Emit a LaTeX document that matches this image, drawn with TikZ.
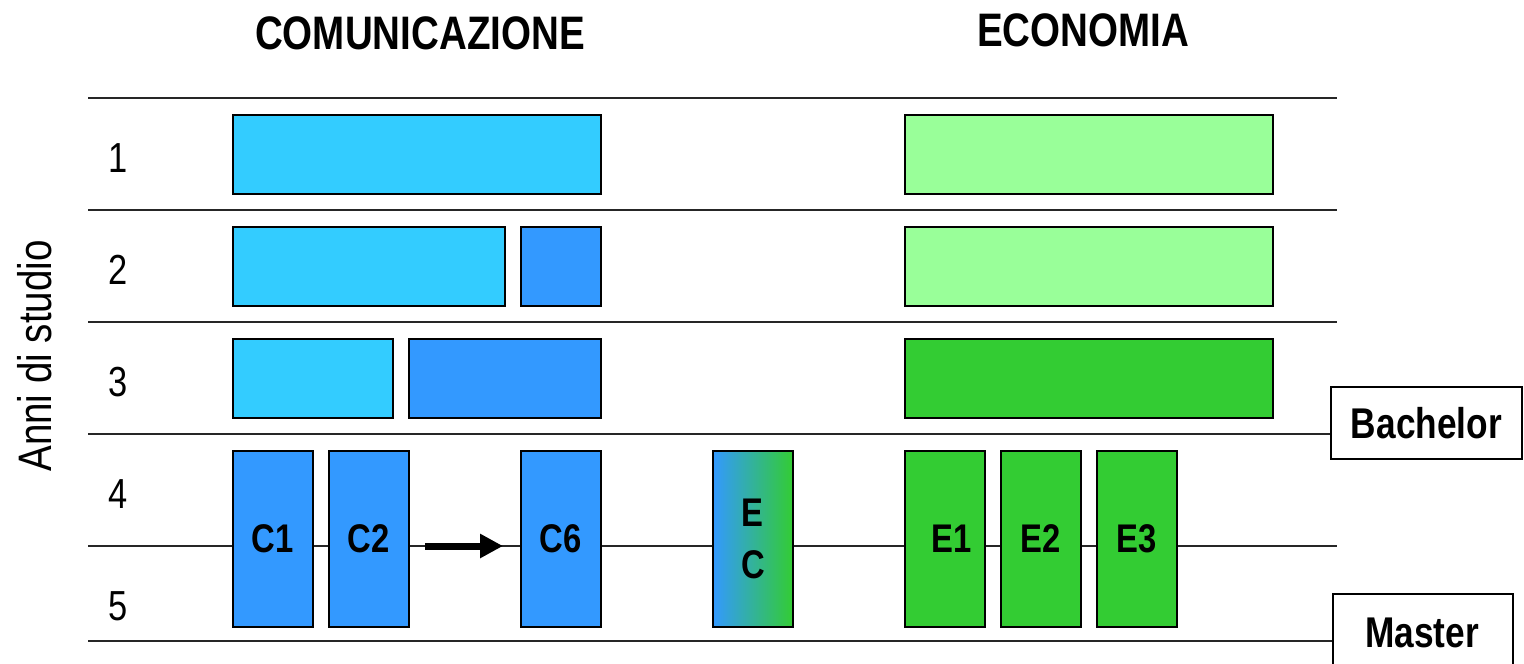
\documentclass[tikz,border=0pt]{standalone}
\usepackage{fontspec}
\setmainfont{Liberation Sans}[FakeStretch=0.82]
\usetikzlibrary{arrows.meta}
\definecolor{ccyan}{HTML}{33CCFF}
\definecolor{cblue}{HTML}{3399FF}
\definecolor{elight}{HTML}{99FF99}
\definecolor{egreen}{HTML}{33CC33}
\tikzset{
  bx/.style={draw=black, line width=1.8pt, inner sep=0pt, anchor=north west},
  rowline/.style={line width=1.8pt, draw=black!85},
  lbl/.style={font=\bfseries\fontsize{40}{52}\selectfont},
  num/.style={font=\fontsize{42}{42}\selectfont},
  ttl/.style={font=\bfseries\fontsize{47}{47}\selectfont},
  tagbox/.style={draw=black, line width=1.8pt, inner sep=0pt, font=\bfseries\fontsize{43}{43}\selectfont}
}
\begin{document}
\begin{tikzpicture}[x=1pt,y=-1pt]
\clip (0,0) rectangle (1524,664);
\fill[white] (0,0) rectangle (1524,664);
% titles
\node[ttl] (tc) at (420,33) {COMUNICAZIONE};
\node[ttl] (te) at (1083,30) {ECONOMIA};
% tags
\node[tagbox, minimum width=191pt, minimum height=72pt, anchor=north west] (bach) at (1330,386) {Bachelor};
\node[tagbox, minimum width=180pt, minimum height=100pt, anchor=north west] (mast) at (1332,593) {};
\node[font=\bfseries\fontsize{43}{43}\selectfont] (mastt) at (1422,633) {Master};
% row lines
\coordinate (l0a) at (88,98);  \coordinate (l0b) at (1337,98);
\coordinate (l1a) at (88,210); \coordinate (l1b) at (1337,210);
\coordinate (l2a) at (88,322); \coordinate (l2b) at (1337,322);
\coordinate (l3a) at (88,434);
\coordinate (l4a) at (88,546); \coordinate (l4b) at (1337,546);
\coordinate (l5a) at (88,641);
\draw[rowline] (l0a) -- (l0b);
\draw[rowline] (l1a) -- (l1b);
\draw[rowline] (l2a) -- (l2b);
\draw[rowline] (l3a) -- (l3a -| bach.west);
\draw[rowline] (l4a) -- (l4b);
\draw[rowline] (l5a) -- (l5a -| mast.west);
% year numbers
\node[num] (n1) at (118,158) {1};
\node[num] (n2) at (118,270) {2};
\node[num] (n3) at (118,382) {3};
\node[num] (n4) at (118,494) {4};
\node[num] (n5) at (118,606) {5};
\node[font=\fontsize{47}{47}\selectfont, rotate=90] (anni) at (35,356) {Anni di studio};
% row 1
\node[bx, fill=ccyan, minimum width=368pt, minimum height=79pt] (c11) at (232,114) {};
\node[bx, fill=elight, minimum width=368pt, minimum height=79pt] (e11) at (904,114) {};
% row 2
\node[bx, fill=ccyan, minimum width=272pt, minimum height=79pt] (c21) at (232,226) {};
\node[bx, fill=cblue, minimum width=80pt, minimum height=79pt] (c22) at (520,226) {};
\node[bx, fill=elight, minimum width=368pt, minimum height=79pt] (e21) at (904,226) {};
% row 3
\node[bx, fill=ccyan, minimum width=160pt, minimum height=79pt] (c31) at (232,338) {};
\node[bx, fill=cblue, minimum width=192pt, minimum height=79pt] (c32) at (408,338) {};
\node[bx, fill=egreen, minimum width=368pt, minimum height=79pt] (e31) at (904,338) {};
% master boxes
\node[bx, fill=cblue, minimum width=80pt, minimum height=176pt, lbl] (C1) at (232,450) {C1};
\node[bx, fill=cblue, minimum width=80pt, minimum height=176pt, lbl] (C2) at (328,450) {C2};
\node[bx, fill=cblue, minimum width=80pt, minimum height=176pt, lbl] (C6) at (520,450) {C6};
\node[bx, left color=cblue, right color=egreen, minimum width=80pt, minimum height=176pt, lbl, align=center] (EC) at (712,450) {E\\C};
\node[bx, fill=egreen, minimum width=80pt, minimum height=176pt, lbl, text width=80pt, align=center] (E1) at (904,450) {\hspace*{14pt}E1};
\node[bx, fill=egreen, minimum width=80pt, minimum height=176pt, lbl] (E2) at (1000,450) {E2};
\node[bx, fill=egreen, minimum width=80pt, minimum height=176pt, lbl] (E3) at (1096,450) {E3};
% arrow
\coordinate (arS) at (425,546);
\coordinate (arE) at (503,546);
\draw[line width=7pt, -{Triangle[length=23pt,width=23pt]}] (arS) -- (arE);
\end{tikzpicture}
\end{document}
